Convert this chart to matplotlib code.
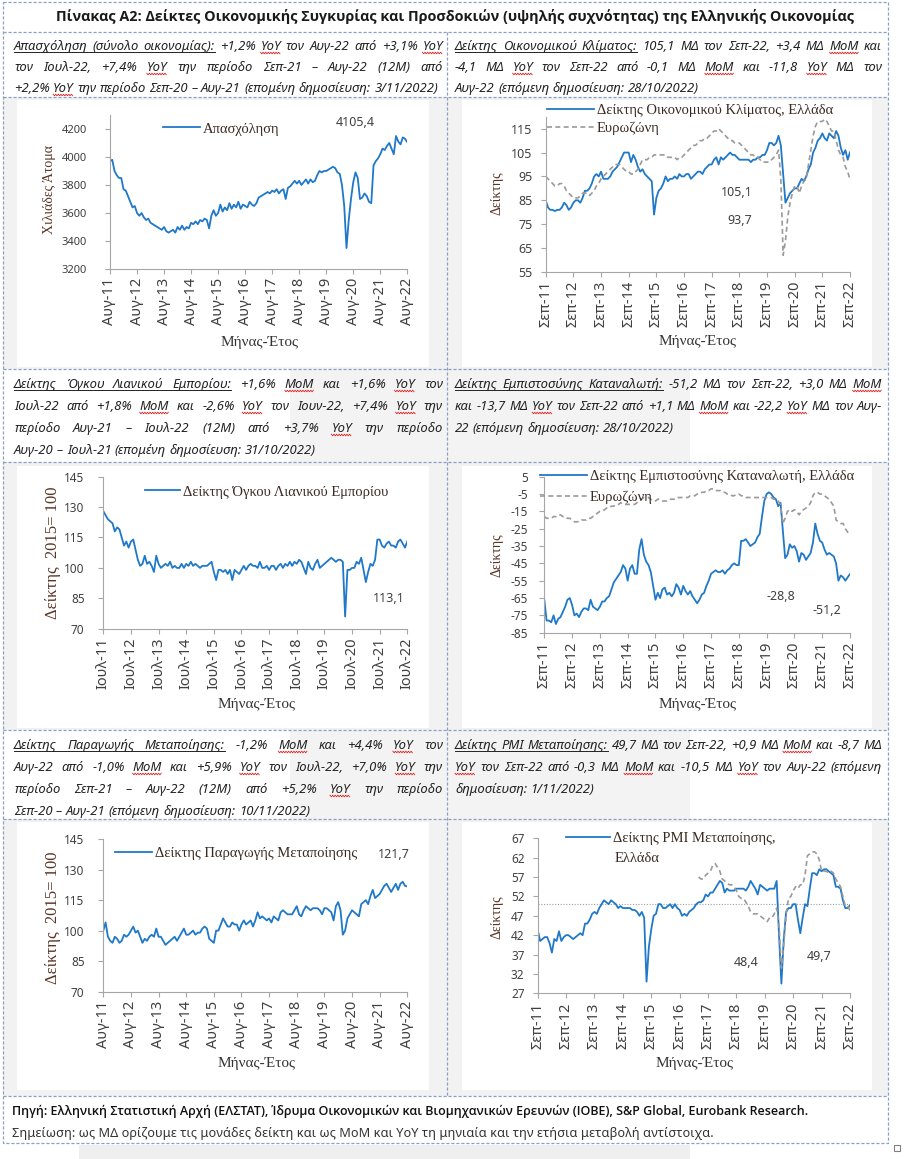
#!/usr/bin/env python3
"""Πίνακας Α2: six high-frequency indicator charts of the Greek economy, with text cells."""
import numpy as np
import matplotlib
matplotlib.use("Agg")
import matplotlib.pyplot as plt
from matplotlib.lines import Line2D
from matplotlib.patches import Rectangle
from matplotlib.transforms import IdentityTransform

# ---------------------------------------------------------------- data
EMP_TICKS = [f"Αυγ-{y:02d}" for y in range(11, 23)]
SEP_TICKS = [f"Σεπ-{y:02d}" for y in range(11, 23)]
JUL_TICKS = [f"Ιουλ-{y:02d}" for y in range(11, 23)]

# employment, thousands, Aug-11 .. Aug-22
employment = [
    3970, 3980, 3900, 3870, 3850, 3850, 3770, 3760, 3720, 3680, 3640, 3650,
    3600, 3580, 3600, 3570, 3550, 3560, 3530, 3520, 3510, 3500, 3490, 3480,
    3500, 3470, 3460, 3470, 3480, 3460, 3500, 3480, 3510, 3480, 3500, 3490,
    3530, 3520, 3540, 3520, 3550, 3540, 3560, 3550, 3490, 3580, 3620, 3580,
    3600, 3660, 3610, 3640, 3620, 3670, 3630, 3660, 3640, 3680, 3630, 3660,
    3650, 3640, 3680, 3660, 3650, 3670, 3710, 3720, 3730, 3740, 3750, 3740,
    3760, 3750, 3770, 3740, 3760, 3770, 3700, 3780, 3790, 3810, 3830, 3810,
    3830, 3800, 3820, 3840, 3810, 3840, 3820, 3830, 3870, 3900, 3890, 3900,
    3900, 3910, 3920, 3930, 3920, 3890, 3880, 3800, 3650, 3350, 3550, 3700,
    3820, 3890, 3850, 3700, 3710, 3740, 3720, 3680, 3670, 3940, 3970, 3990,
    4020, 4060, 4050, 4080, 4100, 4060, 4020, 4150, 4110, 4090, 4140, 4130,
    4105.4,
]

# economic sentiment, Sep-11 .. Sep-22
esi_gr = [
    85, 82, 81, 81, 80.5, 81, 81, 82, 84, 83, 81, 82,
    84, 85, 85, 84, 86, 89, 89, 90, 92, 95, 96, 95,
    97, 94, 94, 94, 95, 97, 98, 99, 101, 103, 105, 105,
    105, 101, 104, 102, 99, 97, 98, 96, 95, 94, 93, 79,
    86, 89, 90, 92, 95, 93, 94, 94, 95, 94, 96, 95,
    95, 96, 96, 94, 95, 96, 97, 97, 96, 98, 99, 100,
    100, 102, 103, 100, 103, 102, 103, 104, 105, 104, 104, 103,
    102, 102, 102, 102, 102, 101, 102, 102, 103, 103, 104, 104,
    106, 109, 109, 108, 109, 112, 108, 96, 84, 86, 88, 89,
    90, 90, 92, 94, 93, 95, 98, 100, 105, 107, 110, 111,
    113, 111, 110, 113, 112, 111, 114, 112, 107, 104, 106, 102,
    105.1,
]
esi_ez = [
    95, 94, 93, 92, 91, 91, 92, 92, 91, 89, 88, 87,
    86, 86, 86, 87, 88, 88, 88, 87, 88, 89, 91, 92,
    94, 95, 96, 97, 98, 99, 100, 100, 100, 99, 98, 97,
    97, 96, 96, 97, 98, 100, 102, 102, 102, 103, 103, 104,
    104, 104, 104, 104, 104, 103, 103, 103, 103, 102, 103, 103,
    104, 105, 106, 107, 108, 108, 109, 110, 110, 111, 111, 112,
    113, 114, 114, 115, 114, 113, 112, 111, 110, 110, 109, 109,
    109, 108, 107, 106, 105, 104, 104, 103, 103, 102, 101, 101,
    101, 101, 102, 103, 104, 106, 94, 62, 68, 78, 84, 88,
    91, 91, 88, 91, 93, 94, 100, 106, 112, 116, 118, 118,
    118, 119, 118, 116, 114, 114, 110, 106, 104, 103, 99, 97,
    93.7,
]

# retail trade volume, 2015=100, Jul-11 .. Jul-22
retail = [
    128, 126, 124, 123, 122, 118, 120, 119, 115, 111, 113, 110,
    113, 114, 109, 104, 101, 102, 106, 102, 103, 101, 98, 106,
    102, 100, 101, 102, 101, 103, 100, 101, 100, 100, 102, 100,
    102, 101, 103, 101, 102, 101, 100, 101, 101, 101, 102, 103,
    98, 94, 99, 99, 98, 99, 97, 99, 94, 99, 98, 97,
    99, 101, 99, 101, 102, 101, 101, 100, 103, 100, 100, 101,
    99, 101, 101, 99, 101, 102, 100, 102, 101, 103, 101, 103,
    102, 104, 103, 100, 97, 103, 100, 99, 102, 104, 100, 101,
    102, 103, 104, 105, 104, 103, 104, 104, 103, 76, 99, 99,
    100, 100, 103, 102, 105, 99, 93, 98, 102, 101, 104, 114,
    114, 111, 110, 112, 113, 111, 111, 110, 113, 114, 112, 110,
    113.1,
]

# consumer confidence, Sep-11 .. Sep-22
cci_gr = [
    -66, -78, -78, -79, -75, -80, -77, -76, -73, -70, -66, -65,
    -69, -75, -74, -76, -73, -71, -71, -72, -66, -70, -71, -72,
    -70, -67, -67, -65, -64, -60, -56, -54, -52, -50, -46, -48,
    -55, -48, -46, -51, -51, -37, -31, -40, -44, -46, -50, -58,
    -66, -62, -65, -60, -59, -63, -62, -64, -62, -57, -59, -63,
    -58, -61, -63, -61, -64, -66, -68, -66, -63, -62, -58, -55,
    -51, -50, -49, -50, -50, -49, -51, -49, -48, -46, -45, -46,
    -46, -32, -32, -31, -33, -35, -34, -33, -30, -28, -18, -9,
    -5, -4, -5, -7, -8, -12, -10, -26, -42, -40, -34, -36,
    -35, -38, -44, -39, -40, -43, -41, -39, -33, -22, -28, -32,
    -33, -37, -40, -39, -40, -41, -45, -55, -52, -53, -55, -53,
    -51.2,
]
cci_ez = [
    -18, -19, -19, -19, -18, -18, -17, -17, -18, -18, -19, -19,
    -20, -21, -21, -21, -20, -20, -20, -19, -19, -18, -17, -16,
    -15, -15, -14, -13, -13, -12, -12, -11, -11, -10, -11, -11,
    -11, -11, -11, -11, -10, -9, -8, -7, -7, -7, -8, -9,
    -9, -8, -8, -9, -9, -9, -8, -8, -8, -8, -7, -7,
    -7, -7, -7, -6, -6, -6, -5, -5, -4, -4, -3, -3,
    -2, -2, -3, -3, -3, -4, -4, -5, -5, -6, -6, -5,
    -5, -6, -6, -7, -7, -7, -7, -7, -7, -7, -7, -7,
    -7, -7, -7, -8, -8, -9, -11, -22, -19, -15, -14, -15,
    -14, -15, -17, -15, -14, -13, -12, -10, -6, -4, -4, -5,
    -5, -6, -7, -8, -10, -12, -20, -21, -22, -22, -25, -27,
    -28.8,
]

# manufacturing production, 2015=100, Aug-11 .. Aug-22
ind_prod = [
    100, 104, 97, 95, 94, 97, 96, 94, 95, 98, 97, 98,
    100, 102, 99, 100, 97, 94, 96, 95, 97, 98, 97, 101,
    97, 97, 95, 93, 94, 95, 96, 97, 95, 97, 99, 101,
    98, 98, 99, 100, 98, 99, 99, 101, 102, 101, 96, 95,
    94, 100, 100, 103, 106, 104, 102, 102, 104, 103, 103, 100,
    103, 105, 103, 104, 105, 102, 105, 109, 106, 107, 106, 105,
    106, 104, 107, 106, 105, 109, 110, 109, 108, 108, 108, 110,
    112, 108, 107, 110, 112, 111, 110, 111, 111, 111, 110, 108,
    111, 111, 110, 109, 105, 112, 114, 110, 98, 100, 106, 108,
    110, 109, 108, 107, 113, 114, 115, 113, 117, 120, 116, 117,
    118, 120, 122, 123, 121, 119, 121, 123, 120, 123, 124, 122,
    121.7,
]

# manufacturing PMI, Sep-11 .. Sep-22 (euro area shown from May-17)
pmi_gr = [
    43.5, 40.5, 41, 41.5, 41.5, 40, 37.5, 41, 40.5, 43, 40.5, 41.5,
    42, 42, 41.5, 41, 41.5, 42, 42.5, 42, 45, 45, 46, 47.5,
    48, 47.5, 49, 50, 51, 50.5, 50, 51, 50.5, 50, 49, 49.5,
    49, 49, 49, 49, 48.5, 48.5, 48, 47, 48, 46.5, 30, 39,
    43.5, 47, 47.5, 50, 50, 49, 49, 49.5, 50, 49, 50, 49,
    48.5, 47, 47.5, 47, 48, 48.5, 49, 50, 50.5, 50.5, 51, 52.5,
    52, 53, 53, 54, 55, 56, 55.5, 53, 54, 53.5, 53.5, 53.5,
    54, 54, 54, 54, 53.5, 54.5, 56, 55, 54, 52.5, 55, 54.5,
    54, 53.5, 54, 54, 54, 56, 42, 29.5, 41, 48, 49, 49,
    50, 50, 46, 42.5, 46.5, 50, 49.5, 54, 58, 58, 57.5, 59,
    58.5, 59, 59, 58.5, 58, 57.5, 54.5, 54.5, 54, 51, 49, 49,
    49.7,
]
PMI_EZ_START = 68  # May-17
pmi_ez = [
    57, 56.5, 56.5, 57.5, 58, 58.5, 60, 60.5, 59.5, 58.5, 56.5, 56,
    55.5, 55, 55, 54.5, 53.5, 52, 51.5, 51.5, 50.5, 49.5, 48, 47.5,
    47.5, 47.5, 47, 46.5, 46, 45.5, 46.5, 46.5, 47.5, 49, 44.5, 33.5,
    39.5, 47.5, 51.5, 52, 53.5, 54.5, 54, 55, 55, 57.5, 62.5, 63,
    63.5, 63.5, 63, 61.5, 58.5, 58.5, 58.5, 58, 58.5, 58, 56.5, 55.5,
    54.5, 52, 49.5, 49.5, 48.4,
]

TITLE = ("Πίνακας Α2: Δείκτες Οικονομικής Συγκυρίας και Προσδοκιών "
         "(υψηλής συχνότητας) της Ελληνικής Οικονομίας")
TEXT_EMP = [
    "Απασχόληση (σύνολο οικονομίας): +1,2% ΥοΥ τον Αυγ-22 από +3,1% ΥοΥ",
    "τον Ιουλ-22, +7,4% ΥοΥ την περίοδο Σεπ-21 – Αυγ-22 (12M) από",
    "+2,2% ΥοΥ την περίοδο Σεπ-20 – Αυγ-21 (επομένη δημοσίευση: 3/11/2022)",
]
TEXT_ESI = [
    "Δείκτης Οικονομικού Κλίματος: 105,1 ΜΔ τον Σεπ-22, +3,4 ΜΔ ΜοΜ και",
    "-4,1 ΜΔ ΥοΥ τον Σεπ-22 από -0,1 ΜΔ ΜοΜ και -11,8 ΥοΥ ΜΔ τον",
    "Αυγ-22 (επόμενη δημοσίευση: 28/10/2022)",
]
TEXT_RET = [
    "Δείκτης Όγκου Λιανικού Εμπορίου: +1,6% ΜοΜ και +1,6% ΥοΥ τον",
    "Ιουλ-22 από +1,8% ΜοΜ και -2,6% ΥοΥ τον Ιουν-22, +7,4% ΥοΥ την",
    "περίοδο Αυγ-21 – Ιουλ-22 (12M) από +3,7% ΥοΥ την περίοδο",
    "Αυγ-20 – Ιουλ-21 (επομένη δημοσίευση: 31/10/2022)",
]
TEXT_CCI = [
    "Δείκτης Εμπιστοσύνης Καταναλωτή: -51,2 ΜΔ τον Σεπ-22, +3,0 ΜΔ ΜοΜ",
    "και -13,7 ΜΔ ΥοΥ τον Σεπ-22 από +1,1 ΜΔ ΜοΜ και -22,2 ΥοΥ ΜΔ τον Αυγ-",
    "22 (επόμενη δημοσίευση: 28/10/2022)",
]
TEXT_IP = [
    "Δείκτης Παραγωγής Μεταποίησης: -1,2% ΜοΜ και +4,4% ΥοΥ τον",
    "Αυγ-22 από -1,0% ΜοΜ και +5,9% ΥοΥ τον Ιουλ-22, +7,0% ΥοΥ την",
    "περίοδο Σεπ-21 – Αυγ-22 (12M) από +5,2% ΥοΥ την περίοδο",
    "Σεπ-20 – Αυγ-21 (επόμενη δημοσίευση: 10/11/2022)",
]
TEXT_PMI = [
    "Δείκτης PMI Μεταποίησης: 49,7 ΜΔ τον Σεπ-22, +0,9 ΜΔ ΜοΜ και -8,7 ΜΔ",
    "ΥοΥ τον Σεπ-22 από -0,3 ΜΔ ΜοΜ και -10,5 ΜΔ ΥοΥ τον Αυγ-22 (επόμενη",
    "δημοσίευση: 1/11/2022)",
]
SOURCE = ("Πηγή: Ελληνική Στατιστική Αρχή (ΕΛΣΤΑΤ), Ίδρυμα Οικονομικών και "
          "Βιομηχανικών Ερευνών (ΙΟΒΕ), S&P Global, Eurobank Research.")
NOTE = ("Σημείωση: ως ΜΔ ορίζουμε τις μονάδες δείκτη και ως ΜοΜ και ΥοΥ "
        "τη μηνιαία και την ετήσια μεταβολή αντίστοιχα.")

# ---------------------------------------------------------------- style
W, H = 910, 1159
BLUE = "#1f78c8"
GREY = "#9a9a9a"
AXC = "#a6a6a6"
TICKC = "#404040"
YLC = "#5a3526"
LEGC = "#3a2a22"
TXT = "#222222"
BORDER = "#8aa0c4"
SERIF = ["Liberation Serif", "DejaVu Serif"]
SANS = ["Noto Sans", "DejaVu Sans"]
BOLD = ["Open Sans", "DejaVu Sans"]

plt.rcParams["font.family"] = SANS
plt.rcParams["axes.unicode_minus"] = False

fig = plt.figure(figsize=(W / 100, H / 100), dpi=100)
ident = IdentityTransform()
rend = fig.canvas.get_renderer()


def fmt(v):
    return f"{v:.1f}".replace(".", ",")


def rect(x0, y0, x1, y1, color):
    fig.add_artist(Rectangle((x0, H - y1), x1 - x0, y1 - y0, transform=ident,
                             fc=color, ec="none", zorder=-5))


def dashed(xs, ys):
    fig.add_artist(Line2D(xs, [H - y for y in ys], transform=ident, color=BORDER,
                          lw=0.9, ls=(0, (2.5, 1.5)), zorder=-1))


def fit_text(x, y, s, width, ha="left", **kw):
    t = fig.text(x, H - y, s, transform=ident, ha=ha, va="center", **kw)
    size = t.get_fontsize()
    t.set_fontsize(size * width / t.get_window_extent(rend).width)
    return t


def squiggle(x0, x1, yb):
    xs = np.arange(x0, x1 + 0.1, 1.3)
    ys = yb - 3 + 0.8 * (-1) ** np.arange(len(xs))
    fig.add_artist(Line2D(xs, ys, transform=ident, color="#e02020", lw=0.6))


def paragraph(lines, x0, x1, y_first, step, under, size=9.4):
    min_gap = 2.5
    for li, line in enumerate(lines):
        words = line.split(" ")
        arts = [fig.text(0, 0, w, transform=ident, fontsize=size, style="italic",
                         color=TXT, va="baseline") for w in words]
        widths = [a.get_window_extent(rend).width for a in arts]
        room = x1 - x0 - (len(words) - 1) * min_gap
        if sum(widths) > room:
            k = room / sum(widths)
            for a in arts:
                a.set_fontsize(size * k)
            widths = [w * k for w in widths]
        if li == len(lines) - 1:
            gap = size * 100 / 72 * 0.26
        else:
            gap = (x1 - x0 - sum(widths)) / (len(words) - 1)
        base = H - (y_first + li * step + 4)
        x = x0
        ends = []
        for w, a, wd in zip(words, arts, widths):
            a.set_position((x, base))
            if "ΥοΥ" in w or "ΜοΜ" in w:
                squiggle(x, x + wd, base)
            ends.append(x + wd)
            x += wd + gap
        if li == 0 and under:
            fig.add_artist(Line2D([x0, ends[under - 1]], [base - 2, base - 2],
                                  transform=ident, color=TXT, lw=0.7))


def make_ax(l, r, t, b):
    ax = fig.add_axes([l / W, 1 - b / H, (r - l) / W, (b - t) / H])
    ax.set_facecolor("none")
    return ax


def style_ax(ax, box, ylim, yticks, xlabels, ypad, ylabel, ylab_xy, xlab_xy,
             yfs=8, xfs=10.5, ylfs=10):
    l, r, t, b = box
    ax.set_xlim(0, 132)
    ax.set_ylim(*ylim)
    ax.set_yticks(yticks)
    ax.set_yticklabels([str(v) for v in yticks])
    ax.set_xticks(range(0, 133, 12))
    ax.set_xticklabels(xlabels, rotation=90)
    for s in ("top", "right"):
        ax.spines[s].set_visible(False)
    for s in ("left", "bottom"):
        ax.spines[s].set_color(AXC)
        ax.spines[s].set_linewidth(0.8)
    ax.tick_params(axis="y", direction="out", length=3.5, width=0.8, color=AXC,
                   pad=ypad, labelsize=yfs, labelcolor=TICKC)
    ax.tick_params(axis="x", direction="out", length=3.5, width=0.8, color=AXC,
                   pad=3, labelsize=xfs, labelcolor=TICKC)
    ax.set_ylabel(ylabel, fontfamily=SERIF, fontsize=ylfs, color=YLC,
                  va="center", ha="center")
    ax.yaxis.set_label_coords((ylab_xy[0] - l) / (r - l), (b - ylab_xy[1]) / (b - t))
    ax.set_xlabel("Μήνας-Έτος", fontfamily=SERIF, fontsize=11, color="#333333",
                  va="center", ha="center")
    ax.xaxis.set_label_coords((xlab_xy[0] - l) / (r - l), (b - xlab_xy[1]) / (b - t))


def legend(ax, handles, labels, x, y, hl_px, spacing=0.35):
    fs = 10.5
    fs_px = fs * 100 / 72
    ax.legend(handles, labels, loc="center left", bbox_to_anchor=(x / W, 1 - y / H),
              bbox_transform=fig.transFigure, frameon=False, borderpad=0,
              borderaxespad=0, handlelength=hl_px / fs_px, handletextpad=3 / fs_px,
              labelspacing=spacing, prop={"family": SERIF, "size": fs},
              labelcolor=LEGC)


def note(x, y, v):
    fig.text(x, H - y, fmt(v), transform=ident, ha="center", va="center",
             fontsize=9, color=TICKC)


# ---------------------------------------------------------------- page frame
rect(79, 1145, 690, H, "#efefef")
for y0, y1 in ((97, 369), (462, 730), (819, 1096)):
    rect(3, y0, 888, y1, "#f2f2f2")
rect(290, 369, 690, 462, "#f3f3f3")
rect(290, 730, 690, 819, "#f3f3f3")
for y0, y1 in ((100, 367), (466, 728), (822, 1090)):
    rect(17, y0, 429, y1, "white")
    rect(462, y0, 872, y1, "white")

dashed([3, 888, 888, 3, 3], [2, 2, 1143, 1143, 2])
for y in (32, 97, 369, 462, 730, 819, 1096):
    dashed([3, 888], [y, y])
dashed([447, 447], [32, 1096])
fig.add_artist(Rectangle((894, H - 1151), 6, 6, transform=ident, fc="white",
                         ec="#808080", lw=0.8))

fit_text(455, 17, TITLE, 795, ha="center", fontsize=10, fontfamily=BOLD,
         fontweight="bold", color="#1a1a1a")
paragraph(TEXT_EMP, 14, 443, 46, 21, 3)
paragraph(TEXT_ESI, 455, 882, 46, 21, 3)
paragraph(TEXT_RET, 14, 443, 384, 22, 4)
paragraph(TEXT_CCI, 455, 882, 384, 22, 3)
paragraph(TEXT_IP, 14, 443, 745, 22, 3)
paragraph(TEXT_PMI, 455, 882, 745, 22, 3)
fit_text(12, 1111, SOURCE, 796, fontsize=8, fontfamily=BOLD, fontweight="semibold",
         color="#111111")
fit_text(12, 1133, NOTE, 697, fontsize=8, color="#333333")

months = np.arange(133)

# ---------------------------------------------------------------- chart 1: employment
box = (110, 407.3, 115, 269)
ax = make_ax(*box)
l1, = ax.plot(months, employment, color=BLUE, lw=1.3)
style_ax(ax, box, (3200, 4300), list(range(3200, 4201, 200)), EMP_TICKS, 13,
         "Χιλιάδες Άτομα", (50, 190), (260, 342), yfs=8)
legend(ax, [l1], ["Απασχόληση"], 163, 129, 37)
note(355, 123, employment[-1])

# ---------------------------------------------------------------- chart 2: sentiment
box = (545.7, 850, 116.7, 272)
ax = make_ax(*box)
l1, = ax.plot(months, esi_gr, color=BLUE, lw=1.3)
l2, = ax.plot(months, esi_ez, color=GREY, lw=1.2, ls=(0, (3, 2)))
style_ax(ax, box, (55, 120), list(range(55, 116, 10)), SEP_TICKS, 6,
         "Δείκτης", (497, 193), (698, 342), yfs=9)
legend(ax, [l1, l2], ["Δείκτης Οικονομικού Κλίματος, Ελλάδα", "Ευρωζώνη"], 547, 119.5, 47)
note(737, 193, esi_gr[-1])
note(740, 220, esi_ez[-1])

# ---------------------------------------------------------------- chart 3: retail
box = (103.3, 407.3, 476.7, 628.7)
ax = make_ax(*box)
l1, = ax.plot(months, retail, color=BLUE, lw=1.3)
style_ax(ax, box, (70, 145), list(range(70, 146, 15)), JUL_TICKS, 10,
         "Δείκτης  2015= 100", (53, 553), (257, 705), yfs=8.5, ylfs=12)
legend(ax, [l1], ["Δείκτης Όγκου Λιανικού Εμπορίου"], 145, 492, 35)
note(389, 598, retail[-1])

# ---------------------------------------------------------------- chart 4: consumer confidence
box = (544.3, 850, 476.7, 632.7)
ax = make_ax(*box)
l1, = ax.plot(months, cci_gr, color=BLUE, lw=1.3)
l2, = ax.plot(months, cci_ez, color=GREY, lw=1.2, ls=(0, (3, 2)))
style_ax(ax, box, (-85, 5), list(range(-85, 6, 10)), SEP_TICKS, 8,
         "Δείκτης", (497, 555), (698, 705), yfs=8.5)
legend(ax, [l1, l2], ["Δείκτης Εμπιστοσύνης Καταναλωτή, Ελλάδα", "Ευρωζώνη"], 540, 487, 47, 0.55)
note(781, 596, cci_ez[-1])
note(827, 611, cci_gr[-1])

# ---------------------------------------------------------------- chart 5: manufacturing production
box = (103.3, 407.3, 839, 991.7)
ax = make_ax(*box)
l1, = ax.plot(months, ind_prod, color=BLUE, lw=1.3)
style_ax(ax, box, (70, 145), list(range(70, 146, 15)), EMP_TICKS, 10,
         "Δείκτης  2015= 100", (53, 918), (257, 1063), yfs=8.5, ylfs=12)
legend(ax, [l1], ["Δείκτης Παραγωγής Μεταποίησης"], 115, 853, 37)
note(394, 854, ind_prod[-1])

# ---------------------------------------------------------------- chart 6: PMI
box = (537.7, 850, 838.3, 993.3)
ax = make_ax(*box)
ax.axhline(50, color="#a0a0a0", lw=0.8, ls=(0, (1, 1.5)))
l1, = ax.plot(months, pmi_gr, color=BLUE, lw=1.3)
ax.plot(months[PMI_EZ_START:], pmi_ez, color=GREY, lw=1.2, ls=(0, (3, 2)))
style_ax(ax, box, (27, 67), list(range(27, 68, 5)), SEP_TICKS, 6,
         "Δείκτης", (497, 917), (695, 1063), yfs=8.5)
legend(ax, [l1], ["Δείκτης PMI Μεταποίησης,"], 566, 838, 44)
fig.text(615, H - 859, "Ελλάδα", transform=ident, va="center", fontfamily=SERIF,
         fontsize=10.5, color=LEGC)
note(746, 963, pmi_ez[-1])
note(819, 957, pmi_gr[-1])

fig.savefig("out.png", dpi=100)
